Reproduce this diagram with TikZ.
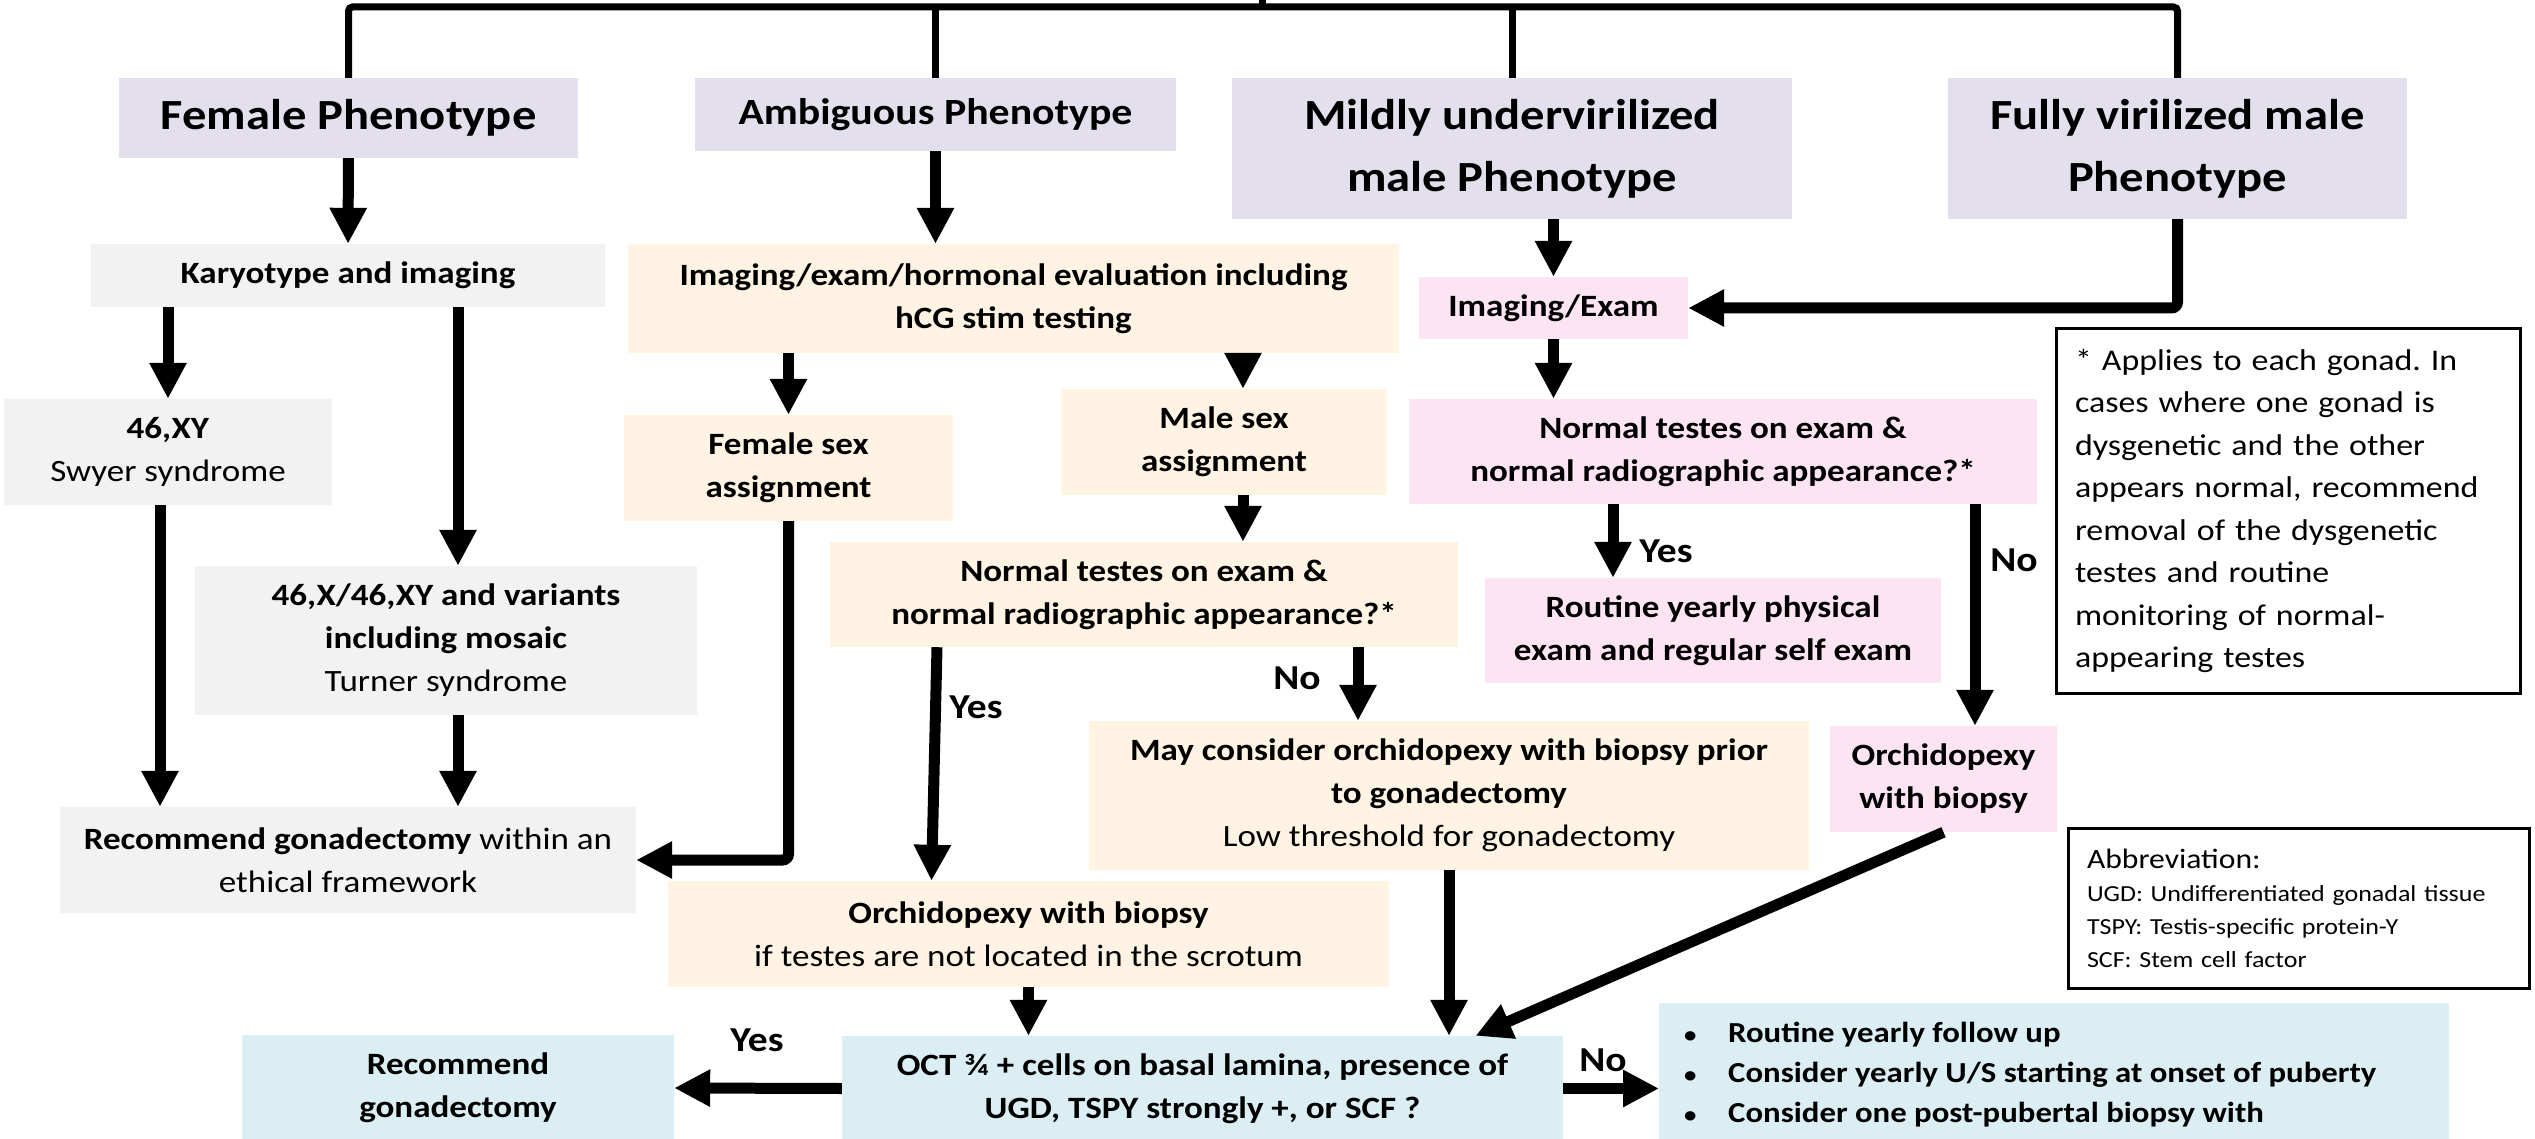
\documentclass[tikz,border=0pt]{standalone}
\usepackage{fontspec}
\setmainfont{Carlito}[FakeStretch=1.13]
\usetikzlibrary{arrows.meta}
\frenchspacing

\definecolor{phenfill}{HTML}{E4DFEC}
\definecolor{greyfill}{HTML}{F2F2F2}
\definecolor{tanfill}{HTML}{FFF4E3}
\definecolor{pinkfill}{HTML}{FDE4F2}
\definecolor{cyanfill}{HTML}{DAEEF3}

\newcommand{\dotmark}{{\fontsize{22}{40}\selectfont\textbullet}}

\begin{document}
\begin{tikzpicture}[x=1pt, y=-1pt,
        cell/.style={inner sep=0pt, align=center, font=\fontsize{31}{43}\selectfont\bfseries},
        plain/.style={font=\fontsize{31}{43}\selectfont},
        phen/.style={cell, fill=phenfill, font=\fontsize{43}{62}\selectfont\bfseries},
        greybox/.style={cell, fill=greyfill},
        tanbox/.style={cell, fill=tanfill},
        pinkbox/.style={cell, fill=pinkfill},
        cyanbox/.style={cell, fill=cyanfill},
        notebox/.style={draw, line width=3pt, inner xsep=19pt, inner ysep=0pt, align=left, font=\fontsize{30}{42.5}\selectfont},
        tree/.style={line width=7pt, rounded corners=4pt},
        arr/.style={line width=11pt, -{Triangle[length=36pt, width=35pt]}},
        elbow/.style={arr, rounded corners=6pt},
        ans/.style={inner sep=0pt, font=\fontsize{35}{40}\selectfont\bfseries}
    ]
    \path[use as bounding box] (0,0) rectangle (2535,1139);
    \clip (0,0) rectangle (2535,1139);

    % phenotypes
    \node[phen, minimum width=459pt, minimum height=80pt] (fem) at (348.5,118) {Female Phenotype};
    \node[phen, font=\fontsize{37}{44}\selectfont\bfseries, minimum width=481pt, minimum height=73pt] (amb) at (935.5,114.5) {Ambiguous Phenotype};
    \node[phen, minimum width=560pt, minimum height=141pt] (mild) at (1512,148.5) {Mildly undervirilized\\male Phenotype};
    \node[phen, minimum width=459pt, minimum height=141pt] (full) at (2177.5,148.5) {Fully virilized male\\Phenotype};

    % female branch
    \node[greybox, minimum width=514pt, minimum height=63pt] (kary) at (348,275.5) {Karyotype and imaging};
    \node[greybox, plain, minimum width=328pt, minimum height=106pt] (xy) at (168,452) {\textbf{46,XY}\\Swyer syndrome};
    \node[greybox, plain, minimum width=502pt, minimum height=149pt] (mosaic) at (446,640.5) {\textbf{46,X/46,XY and variants}\\\textbf{including mosaic}\\Turner syndrome};
    \node[greybox, plain, minimum width=576pt, minimum height=106pt] (gonad) at (348,860) {\textbf{Recommend gonadectomy} within an\\ethical framework};

    % ambiguous branch
    \node[tanbox, minimum width=771pt, minimum height=109pt] (eval) at (1013.5,298.5) {Imaging/exam/hormonal evaluation including\\hCG stim testing};
    \node[tanbox, minimum width=329pt, minimum height=106pt] (femsex) at (788.5,468) {Female sex\\assignment};
    \node[tanbox, minimum width=326pt, minimum height=106pt] (malesex) at (1224,442) {Male sex\\assignment};
    \node[tanbox, minimum width=628pt, minimum height=105pt] (normA) at (1144,594.5) {Normal testes on exam \&\\normal radiographic appearance?*};
    \node[tanbox, plain, minimum width=720pt, minimum height=149pt] (maybe) at (1449,795.5) {\textbf{May consider orchidopexy with biopsy prior}\\\textbf{to gonadectomy}\\Low threshold for gonadectomy};
    \node[tanbox, plain, minimum width=721pt, minimum height=106pt] (orchA) at (1028.5,934) {\textbf{Orchidopexy with biopsy}\\if testes are not located in the scrotum};

    % male branches
    \node[pinkbox, minimum width=269pt, minimum height=62pt] (imex) at (1553.5,308) {Imaging/Exam};
    \node[pinkbox, minimum width=628pt, minimum height=105pt] (normB) at (1723,451.5) {Normal testes on exam \&\\normal radiographic appearance?*};
    \node[pinkbox, minimum width=456pt, minimum height=105pt] (routine) at (1713,630.5) {Routine yearly physical\\exam and regular self exam};
    \node[pinkbox, minimum width=227pt, minimum height=106pt] (orchB) at (1943.5,779) {Orchidopexy\\with biopsy};

    % histology
    \node[cyanbox, minimum width=721pt, minimum height=105pt] (oct) at (1202.5,1088.5) {OCT ¾ + cells on basal lamina, presence of\\UGD, TSPY strongly +, or SCF ?};
    \node[cyanbox, minimum width=432pt, minimum height=106pt] (recgon) at (458,1088) {Recommend\\gonadectomy};
    \node[cyanbox, anchor=north west, font=\fontsize{29}{40}\selectfont\bfseries] (follow) at (1659,1003) {\parbox[t][190pt][t]{790pt}{\vspace*{11pt}\hspace*{25pt}\begin{tabular}[t]{@{}p{44pt}@{}l@{}}
        \dotmark & Routine yearly follow up\\
        \dotmark & Consider yearly U/S starting at onset of puberty\\
        \dotmark & Consider one post-pubertal biopsy with
    \end{tabular}}};

    % notes
    \node[notebox, text width=426pt, minimum height=364pt] (gonadnote) at (2288,511) {* Applies to each gonad. In\\cases where one gonad is\\dysgenetic and the other\\appears normal, recommend\\removal of the dysgenetic\\testes and routine\\monitoring of normal-\\appearing testes};
    \node[notebox, text width=423pt, minimum height=160pt, font=\fontsize{23}{33}\selectfont] (abbrev) at (2298.5,908) {{\fontsize{28}{36}\selectfont Abbreviation:}\\UGD: Undifferentiated gonadal tissue\\TSPY: Testis-specific protein-Y\\SCF: Stem cell factor};

    % phenotype tree
    \coordinate (root) at (1262,-10);
    \coordinate (top) at (1262,7);
    \draw[tree] (root) -- (top);
    \draw[tree] (fem.north) |- (top) -| (full.north);
    \draw[tree] (amb.north) -- (amb.north |- top);
    \draw[tree] (mild.north) -- (mild.north |- top);

    % arrows
    \draw[arr] (fem) -- (kary);
    \draw[arr] (amb.south) -- (amb.south |- eval.north);
    \draw[arr] (mild.south -| imex.north) -- (imex.north);
    \draw[elbow] (full.south) |- (imex.east);
    \draw[arr] (xy.north |- kary.south) -- (xy.north);
    \draw[arr] ([xshift=110pt]kary.south) -- ([xshift=110pt]kary.south |- mosaic.north);
    \draw[arr] ([xshift=-8pt]xy.south) -- ([xshift=-8pt]xy.south |- gonad.north);
    \draw[arr] ([xshift=12pt]mosaic.south) -- ([xshift=12pt]mosaic.south |- gonad.north);
    \draw[arr] (femsex.north |- eval.south) -- (femsex.north);
    \draw[arr] ([xshift=19pt]malesex.north |- eval.south) -- ([xshift=19pt]malesex.north);
    \draw[elbow] (femsex.south) |- (gonad.east);
    \draw[arr] ([xshift=19pt]malesex.south) -- ([xshift=19pt]malesex.south |- normA.north);
    \draw[arr] ([xshift=-207pt]normA.south) -- ([xshift=-97pt]orchA.north);
    \draw[arr] ([xshift=214pt]normA.south) -- ([xshift=214pt]normA.south |- maybe.north);
    \draw[arr] (maybe.south) -- (maybe.south |- oct.north);
    \draw[arr] (orchA.south) -- (orchA.south |- oct.north);
    \draw[arr] (orchB.south) -- ([xshift=273pt]oct.north);
    \draw[arr] (oct.west) -- (recgon.east);
    \draw[arr] (oct.east) -- (follow.west |- oct.east);
    \draw[arr] (imex.south) -- (imex.south |- normB.north);
    \draw[arr] ([xshift=-100pt]routine.north |- normB.south) -- ([xshift=-100pt]routine.north);
    \draw[arr] ([xshift=31.5pt]orchB.north |- normB.south) -- ([xshift=31.5pt]orchB.north);

    % yes / no
    \node[ans] (yesA) at (976,707) {Yes};
    \node[ans] (noA) at (1297,678) {No};
    \node[ans] (yesB) at (1666,551) {Yes};
    \node[ans] (noB) at (2014,560) {No};
    \node[ans] (yesC) at (757,1040) {Yes};
    \node[ans] (noC) at (1603,1060) {No};

\end{tikzpicture}
\end{document}
